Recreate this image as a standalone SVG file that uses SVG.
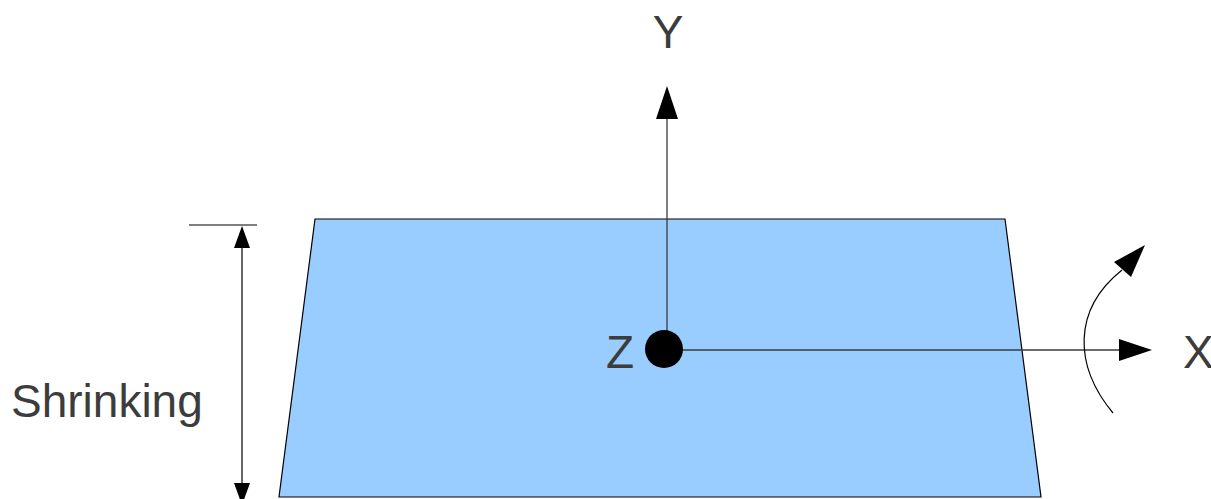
<svg xmlns="http://www.w3.org/2000/svg" width="1211" height="499" viewBox="0 0 1211 499">
<style>
.lbl{font-family:"Liberation Sans",Arial,sans-serif;font-size:46px;fill:#3c3c3c}
.ln{stroke:#3a3a3a;stroke-width:1.3;fill:none}
.thin{stroke:#000;stroke-width:1.2;fill:none}
.head{fill:#000;stroke:none}
</style>
<rect width="1211" height="499" fill="#fff"/>
<g id="plane">
<polygon points="315,219 1005,219 1041,497 279,497" fill="#99ccff" stroke="#000" stroke-width="1.2"/>
</g>
<g id="connectors">
<line class="ln" x1="667" y1="349" x2="667" y2="118"/>
<polygon class="head" points="667,86 678,119 656,119"/>
<line class="ln" x1="664" y1="350" x2="1120" y2="350"/>
<polygon class="head" points="1152,350 1119,339 1119,361"/>
<line class="thin" x1="189" y1="225" x2="257" y2="225"/>
<line class="thin" x1="242" y1="246" x2="242" y2="485"/>
<polygon class="head" points="242,226 250,248 234,248"/>
<polygon class="head" points="242,505 250,483 234,483"/>
<path class="thin" d="M1113,413 C1074,366 1072,310 1122,270"/>
<polygon class="head" points="1145,245 1114,262 1131,277"/>
</g>
<g id="origin">
<circle cx="664" cy="349" r="19" fill="#000"/>
<text class="lbl" x="606" y="368">Z</text>
</g>
<g id="labelY"><text class="lbl" x="668" y="48" text-anchor="middle">Y</text></g>
<g id="labelX"><text class="lbl" x="1183" y="368">X</text></g>
<g id="labelShrinking"><text class="lbl" x="11" y="417">Shrinking</text></g>
</svg>
